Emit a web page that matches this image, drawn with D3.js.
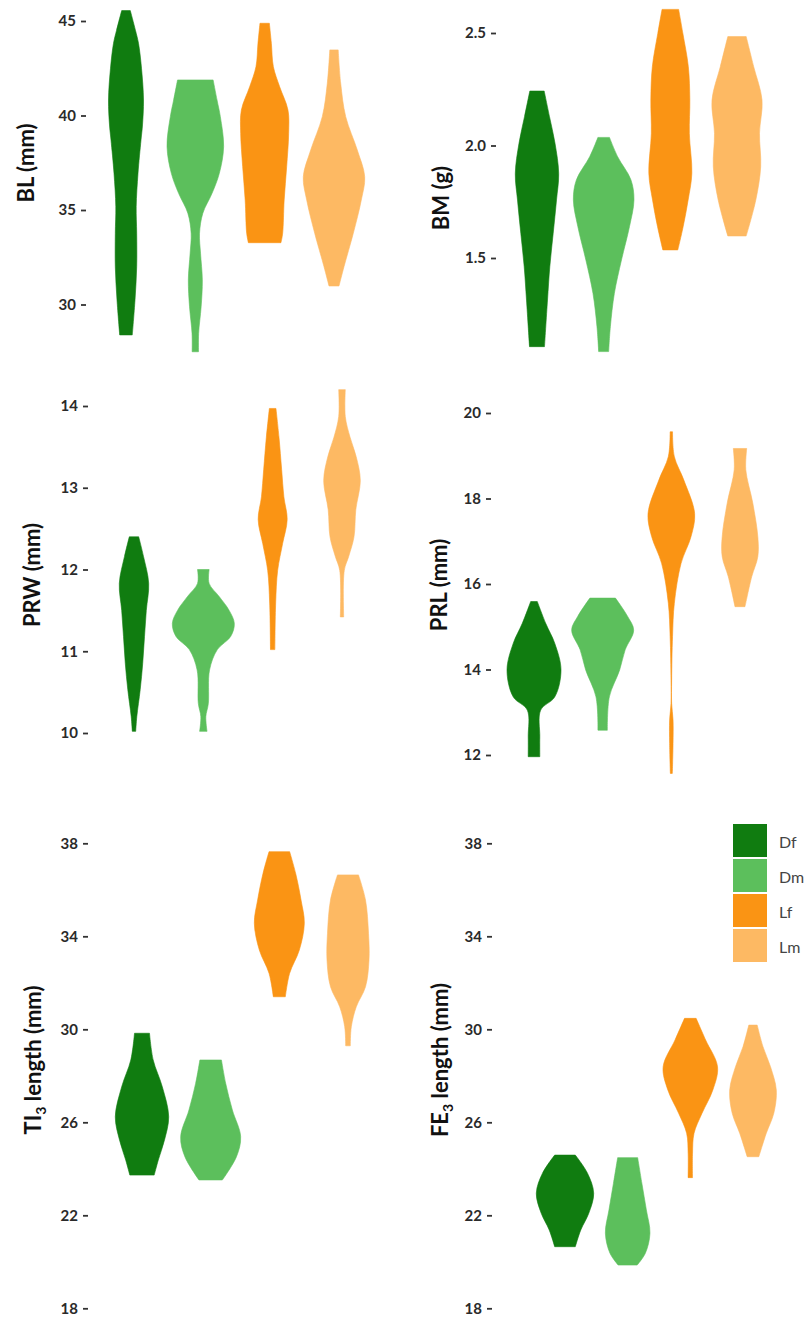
<!DOCTYPE html>
<html>
<head>
<meta charset="utf-8">
<script src="https://cdnjs.cloudflare.com/ajax/libs/d3/7.8.5/d3.min.js"></script>
<style>
  body { margin: 0; background: #fff; }
</style>
</head>
<body>
<div id="chart"></div>
<script>
// groups and their colours
const groups = ["Df", "Dm", "Lf", "Lm"];
const groupColors = ["#107c10", "#5cbf5c", "#fa9414", "#fdb963"];

// one y axis title per panel ("_3" = subscript 3)
const panelTitles = ["BL (mm)", "BM (g)", "PRW (mm)", "PRL (mm)", "TI_3 length (mm)", "FE_3 length (mm)"];

// tick values per panel
const blTicks  = [30, 35, 40, 45];
const bmTicks  = [1.5, 2.0, 2.5];
const prwTicks = [10, 11, 12, 13, 14];
const prlTicks = [12, 14, 16, 18, 20];
const ti3Ticks = [18, 22, 26, 30, 34, 38];
const fe3Ticks = [18, 22, 26, 30, 34, 38];

// violin profiles: [value, relative density], order Df, Dm, Lf, Lm
const blViolins = [
  [[45.55,0.43],[44.5,0.95],[43.82,1.25],[42.5,1.55],[40.82,1.75],[39.5,1.65],[38.7,1.5],[36.94,1.2],[35.18,1.02],[33.77,1.07],[32.0,1.07],[30.24,0.9],[28.39,0.63]],
  [[41.88,1.78],[40.82,2.17],[39.94,2.5],[38.35,2.83],[36.94,2.4],[35.88,1.67],[34.83,0.75],[33.77,0.42],[32.71,0.52],[31.3,0.7],[29.88,0.58],[28.47,0.33],[27.5,0.32]],
  [[44.88,0.47],[43.82,0.67],[42.58,0.87],[41.52,1.5],[40.29,2.33],[39.06,2.4],[37.29,2.2],[35.53,1.95],[33.77,1.8],[33.27,1.63]],
  [[43.47,0.42],[41.7,0.67],[39.94,1.17],[38.17,2.33],[36.76,3.07],[35.53,2.73],[33.77,1.93],[32.0,1.0],[30.98,0.5]]
];
const bmViolins = [
  [[2.242,0.72],[2.128,1.25],[2.01,1.8],[1.876,2.17],[1.758,1.95],[1.61,1.62],[1.461,1.28],[1.313,1.05],[1.106,0.75]],
  [[2.036,0.58],[1.95,1.4],[1.847,2.73],[1.758,3.03],[1.639,2.58],[1.491,1.78],[1.343,1.07],[1.195,0.67],[1.084,0.5]],
  [[2.605,0.83],[2.499,1.25],[2.35,1.8],[2.202,1.95],[2.054,1.9],[1.876,2.15],[1.758,1.78],[1.639,1.28],[1.536,0.75]],
  [[2.484,0.92],[2.35,1.67],[2.202,2.5],[2.054,2.25],[1.906,2.37],[1.758,1.88],[1.598,0.92]]
];
const prwViolins = [
  [[12.4,0.47],[12.16,0.95],[11.83,1.47],[11.5,1.23],[11.18,1.05],[10.85,0.87],[10.53,0.62],[10.2,0.28],[10.02,0.17]],
  [[12.0,0.58],[11.83,0.58],[11.67,1.58],[11.5,2.58],[11.34,3.1],[11.18,2.73],[11.02,1.4],[10.77,0.62],[10.36,0.5],[10.2,0.25],[10.02,0.37]],
  [[13.97,0.33],[13.62,0.63],[13.22,0.9],[12.89,1.12],[12.61,1.45],[12.32,1.0],[11.99,0.5],[11.59,0.3],[11.02,0.22]],
  [[14.2,0.33],[13.87,0.33],[13.62,0.8],[13.38,1.42],[13.09,1.83],[12.73,1.38],[12.4,1.2],[12.16,0.67],[11.99,0.23],[11.42,0.17]]
];
const prlViolins = [
  [[15.59,0.33],[15.08,1.17],[14.61,2.08],[13.99,2.7],[13.36,2.08],[13.05,0.67],[12.43,0.58],[11.96,0.58]],
  [[15.67,1.28],[15.24,2.5],[14.92,3.1],[14.46,2.25],[13.99,1.7],[13.36,0.67],[12.58,0.47]],
  [[19.56,0.12],[18.98,0.3],[18.43,1.25],[17.65,2.33],[17.11,1.97],[16.48,0.97],[15.55,0.3],[14.77,0.12],[13.75,0.03],[13.21,0.03],[12.82,0.17],[12.27,0.17],[11.57,0.1]],
  [[19.17,0.67],[18.67,0.58],[17.89,1.28],[17.11,1.78],[16.64,1.78],[16.17,1.17],[15.47,0.5]]
];
const ti3Violins = [
  [[29.83,0.75],[28.68,1.12],[27.53,2.03],[26.24,2.67],[25.24,2.25],[24.38,1.63],[23.73,1.22]],
  [[28.68,1.08],[27.68,1.5],[26.53,2.17],[25.38,3.0],[24.52,2.58],[23.52,1.17]],
  [[37.64,1.03],[36.71,1.63],[35.56,2.17],[34.56,2.5],[33.41,2.0],[32.41,1.03],[31.4,0.6]],
  [[36.64,1.05],[35.56,1.75],[34.13,2.05],[32.98,2.1],[31.83,1.75],[30.97,0.83],[30.11,0.33],[29.29,0.23]]
];
const fe3Violins = [
  [[24.59,1.03],[23.81,2.25],[22.95,2.87],[22.09,2.38],[21.37,1.58],[20.65,1.03]],
  [[24.48,1.0],[23.38,1.42],[22.23,1.87],[21.23,2.23],[20.37,1.77],[19.86,0.95]],
  [[30.47,0.58],[29.54,1.53],[28.39,2.72],[27.39,2.25],[26.39,1.17],[25.53,0.37],[24.67,0.22],[23.62,0.22]],
  [[30.18,0.42],[29.25,1.0],[28.39,1.75],[27.39,2.33],[26.39,2.08],[25.53,1.33],[24.52,0.58]]
];

const panelTicks = [blTicks, bmTicks, prwTicks, prlTicks, ti3Ticks, fe3Ticks];
const panelViolins = [blViolins, bmViolins, prwViolins, prlViolins, ti3Violins, fe3Violins];

// where each panel sits on the page
const layout = [
  { xs: [126, 334], ys: [304.5, 21],    axisX: 86,  titleX: 25,  titleY: 163 },
  { xs: [537, 737], ys: [258, 33],      axisX: 496, titleX: 440, titleY: 198 },
  { xs: [134, 342], ys: [733, 406],     axisX: 88,  titleX: 31,  titleY: 575 },
  { xs: [534, 740], ys: [755, 413],     axisX: 491, titleX: 438, titleY: 585 },
  { xs: [142, 348], ys: [1308.3, 843.3], axisX: 88, titleX: 32,  titleY: 1060 },
  { xs: [565, 753], ys: [1308.3, 843.3], axisX: 492, titleX: 439, titleY: 1060 }
];

const font = "Lato, 'Liberation Sans', sans-serif";

const svg = d3.select("#chart").append("svg")
  .attr("width", 812)
  .attr("height", 1344);

const color = d3.scaleOrdinal().domain(groups).range(groupColors);
const wScale = d3.scaleLinear().domain([0, 1]).range([0, 10]);

panelTicks.forEach(function(ticks, p) {
  const lay = layout[p];
  const g = svg.append("g").attr("class", "panel");

  const y = d3.scaleLinear()
    .domain([ticks[0], ticks[ticks.length - 1]])
    .range(lay.ys);
  const x = d3.scalePoint().domain(groups).range(lay.xs);

  const yAxis = d3.axisLeft(y)
    .tickValues(ticks)
    .tickSize(5)
    .tickPadding(5)
    .tickFormat(p === 1 ? d3.format(".1f") : d3.format("d"));

  const ax = g.append("g")
    .attr("transform", "translate(" + lay.axisX + ",0)")
    .call(yAxis)
    .attr("font-family", font)
    .attr("font-size", 15)
    .attr("font-weight", 700);
  ax.select(".domain").remove();
  ax.selectAll(".tick text").attr("fill", "#2a2a2a");
  ax.selectAll(".tick line").attr("stroke", "#333").attr("stroke-width", 1.8);

  // rotated y title, with subscript if needed
  const parts = panelTitles[p].split("_");
  const t = g.append("text")
    .attr("transform", "translate(" + lay.titleX + "," + lay.titleY + ") rotate(-90)")
    .attr("text-anchor", "middle")
    .attr("dominant-baseline", "central")
    .attr("font-family", font)
    .attr("font-size", 22)
    .attr("font-weight", 700)
    .attr("fill", "#111");
  t.append("tspan").text(parts[0]);
  if (parts.length > 1) {
    t.append("tspan").attr("baseline-shift", "sub").attr("font-size", 14).text(parts[1][0]);
    t.append("tspan").text(parts[1].slice(1));
  }

  // violins
  panelViolins[p].forEach(function(prof, i) {
    const cx = x(groups[i]);
    const pts = prof.slice().sort(function(a, b) { return a[0] - b[0]; });
    const area = d3.area()
      .curve(d3.curveCatmullRom.alpha(0.5))
      .y(function(d) { return y(d[0]); })
      .x0(function(d) { return cx - wScale(d[1]); })
      .x1(function(d) { return cx + wScale(d[1]); });
    g.append("path")
      .attr("d", area(pts))
      .attr("fill", color(groups[i]))
      .attr("stroke", color(groups[i]))
      .attr("stroke-width", 0.6);
  });
});

// legend
const legend = svg.selectAll(".legend")
  .data(groups)
  .enter().append("g")
  .attr("class", "legend")
  .attr("transform", function(d, i) { return "translate(733," + (824 + i * 35) + ")"; });

legend.append("rect")
  .attr("width", 34)
  .attr("height", 33)
  .attr("fill", function(d) { return color(d); });

legend.append("text")
  .attr("x", 46)
  .attr("y", 17)
  .attr("dominant-baseline", "central")
  .attr("font-family", font)
  .attr("font-size", 16)
  .attr("fill", "#444")
  .text(function(d) { return d; });
</script>
</body>
</html>
